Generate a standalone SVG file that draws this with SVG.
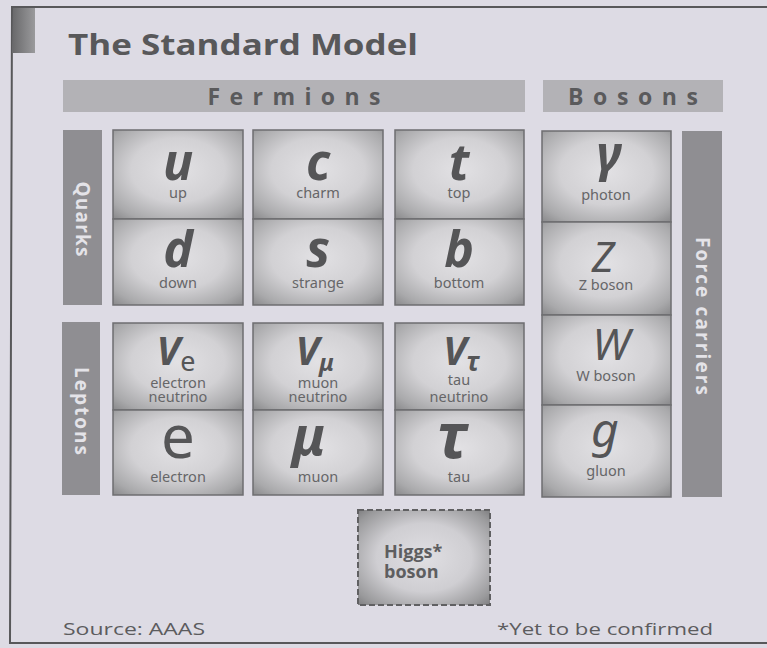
<svg xmlns="http://www.w3.org/2000/svg" width="767" height="648" viewBox="0 0 767 648">
<defs>
<radialGradient id="cellg" cx="0.5" cy="0.45" r="0.72">
<stop offset="0" stop-color="#e2e1e4"/>
<stop offset="0.5" stop-color="#d2d1d4"/>
<stop offset="0.85" stop-color="#a9a9ab"/>
<stop offset="1" stop-color="#8e8e90"/>
</radialGradient>
<radialGradient id="higgsg" cx="0.5" cy="0.5" r="0.72">
<stop offset="0" stop-color="#e0dfe3"/>
<stop offset="0.5" stop-color="#cfced2"/>
<stop offset="0.85" stop-color="#9a9a9c"/>
<stop offset="1" stop-color="#7a7a7c"/>
</radialGradient>
<linearGradient id="blockg" x1="0" y1="0" x2="1" y2="0">
<stop offset="0" stop-color="#6a6a6c"/>
<stop offset="1" stop-color="#9a9a9c"/>
</linearGradient>
</defs>
<style>
.cell{fill:url(#cellg);stroke:#6e6e70;stroke-width:1.5}
.sym{font-family:"Noto Sans","DejaVu Sans",sans-serif;font-style:italic;fill:#555557;text-anchor:middle}
.up{font-family:"Noto Sans","DejaVu Sans",sans-serif;font-style:normal;fill:#555557;text-anchor:middle}
.lbl{font-family:"Noto Sans","DejaVu Sans",sans-serif;font-size:14.5px;fill:#666668;text-anchor:middle}
.head{fill:#b3b2b6}
.headt{font-family:"Open Sans","Noto Sans",sans-serif;font-weight:bold;font-size:23px;fill:#5a5a5c;text-anchor:middle}
.side{fill:#8f8e92}
.sidet{font-family:"Open Sans","Noto Sans",sans-serif;font-weight:bold;font-size:19px;fill:#e4e3e8;text-anchor:middle}
.foot{font-family:"Open Sans","Noto Sans",sans-serif;font-size:17px;fill:#5c5c5e}
.hig{font-family:"Open Sans","Noto Sans",sans-serif;font-weight:bold;font-size:18px;fill:#5e5e60}
</style>
<rect x="0" y="0" width="767" height="648" fill="#dddbe4"/>
<g id="frame">
<path d="M767 7 L12 7 L10 643 L767 643" fill="none" stroke="#58585a" stroke-width="2"/>
<rect x="13" y="8" width="22" height="45" fill="url(#blockg)"/>
</g>
<g id="title">
<text x="68" y="55" font-family="Open Sans, Noto Sans, sans-serif" font-weight="bold" font-size="29" fill="#58585a" textLength="350" lengthAdjust="spacingAndGlyphs">The Standard Model</text>
</g>
<g id="fermions-header">
<rect class="head" x="63" y="80" width="462" height="32"/>
<text class="headt" x="294" y="105" textLength="173" lengthAdjust="spacing">Fermions</text>
</g>
<g id="bosons-header">
<rect class="head" x="543" y="80" width="180" height="32"/>
<text class="headt" x="633" y="105" textLength="130" lengthAdjust="spacing">Bosons</text>
</g>
<g id="quarks-bar">
<rect class="side" x="63" y="130" width="39" height="175"/>
<text class="sidet" transform="translate(76,219) rotate(90)" x="0" y="0" textLength="75" lengthAdjust="spacing">Quarks</text>
</g>
<g id="leptons-bar">
<rect class="side" x="62" y="322" width="38" height="173"/>
<text class="sidet" transform="translate(75,411) rotate(90)" x="0" y="0" textLength="88" lengthAdjust="spacing">Leptons</text>
</g>
<g id="force-carriers-bar">
<rect class="side" x="682" y="131" width="40" height="366"/>
<text class="sidet" transform="translate(696,316) rotate(90)" x="0" y="0" textLength="158" lengthAdjust="spacing">Force carriers</text>
</g>
<g id="up">
<rect class="cell" x="113" y="130" width="130" height="89"/>
<text class="sym" x="178" y="180" font-size="50" font-weight="bold">u</text>
<text class="lbl" x="178" y="198">up</text>
</g>
<g id="down">
<rect class="cell" x="113" y="219" width="130" height="86"/>
<text class="sym" x="178" y="267" font-size="50" font-weight="bold">d</text>
<text class="lbl" x="178" y="288">down</text>
</g>
<g id="charm">
<rect class="cell" x="253" y="130" width="130" height="89"/>
<text class="sym" x="318" y="180" font-size="50" font-weight="bold">c</text>
<text class="lbl" x="318" y="198">charm</text>
</g>
<g id="strange">
<rect class="cell" x="253" y="219" width="130" height="86"/>
<text class="sym" x="318" y="267" font-size="50" font-weight="bold">s</text>
<text class="lbl" x="318" y="288">strange</text>
</g>
<g id="top">
<rect class="cell" x="395" y="130" width="129" height="89"/>
<text class="sym" x="459" y="180" font-size="50" font-weight="bold">t</text>
<text class="lbl" x="459" y="198">top</text>
</g>
<g id="bottom">
<rect class="cell" x="395" y="219" width="129" height="86"/>
<text class="sym" x="459" y="267" font-size="50" font-weight="bold">b</text>
<text class="lbl" x="459" y="288">bottom</text>
</g>
<g id="electron-neutrino">
<rect class="cell" x="113" y="323" width="130" height="87"/>
<text class="sym" x="176" y="365" font-size="40" font-weight="bold">V<tspan style="font-style:normal" font-weight="normal" font-size="27" dy="6">e</tspan></text>
<text class="lbl" x="178" y="388">electron</text>
<text class="lbl" x="178" y="402">neutrino</text>
</g>
<g id="electron">
<rect class="cell" x="113" y="410" width="130" height="85"/>
<text class="up" x="178" y="458" font-size="60">e</text>
<text class="lbl" x="178" y="482">electron</text>
</g>
<g id="muon-neutrino">
<rect class="cell" x="253" y="323" width="130" height="87"/>
<text class="sym" x="315" y="365" font-size="40" font-weight="bold">V<tspan font-size="24" dy="6">μ</tspan></text>
<text class="lbl" x="318" y="388">muon</text>
<text class="lbl" x="318" y="402">neutrino</text>
</g>
<g id="muon">
<rect class="cell" x="253" y="410" width="130" height="85"/>
<text class="sym" x="309" y="455" font-size="54" font-weight="bold">μ</text>
<text class="lbl" x="318" y="482">muon</text>
</g>
<g id="tau-neutrino">
<rect class="cell" x="395" y="323" width="129" height="87"/>
<text class="sym" x="461" y="365" font-size="40" font-weight="bold">V<tspan font-size="26" dy="6">τ</tspan></text>
<text class="lbl" x="459" y="385">tau</text>
<text class="lbl" x="459" y="402">neutrino</text>
</g>
<g id="tau">
<rect class="cell" x="395" y="410" width="129" height="85"/>
<text class="sym" x="452" y="458" font-size="62" font-weight="bold">τ</text>
<text class="lbl" x="459" y="482">tau</text>
</g>
<g id="photon">
<rect class="cell" x="542" y="131" width="129" height="91"/>
<text class="sym" x="609" y="172" font-size="50" font-weight="bold">γ</text>
<text class="lbl" x="606" y="200">photon</text>
</g>
<g id="z-boson">
<rect class="cell" x="542" y="222" width="129" height="93"/>
<text class="sym" x="603" y="272" font-size="42">Z</text>
<text class="lbl" x="606" y="290">Z boson</text>
</g>
<g id="w-boson">
<rect class="cell" x="542" y="315" width="129" height="90"/>
<text class="sym" x="611" y="360" font-size="44">W</text>
<text class="lbl" x="606" y="381">W boson</text>
</g>
<g id="gluon">
<rect class="cell" x="542" y="405" width="129" height="92"/>
<text class="sym" x="605" y="447" font-size="48">g</text>
<text class="lbl" x="606" y="476">gluon</text>
</g>
<g id="higgs">
<rect x="358" y="510" width="132" height="95" fill="url(#higgsg)" stroke="#606062" stroke-width="2" stroke-dasharray="6 3"/>
<text class="hig" x="384" y="558">Higgs*</text>
<text class="hig" x="384" y="578">boson</text>
</g>
<g id="connectors"/>
<g id="footer">
<text class="foot" x="63" y="635" textLength="142" lengthAdjust="spacingAndGlyphs">Source: AAAS</text>
<text class="foot" x="497" y="635" textLength="216" lengthAdjust="spacingAndGlyphs">*Yet to be confirmed</text>
</g>
</svg>
